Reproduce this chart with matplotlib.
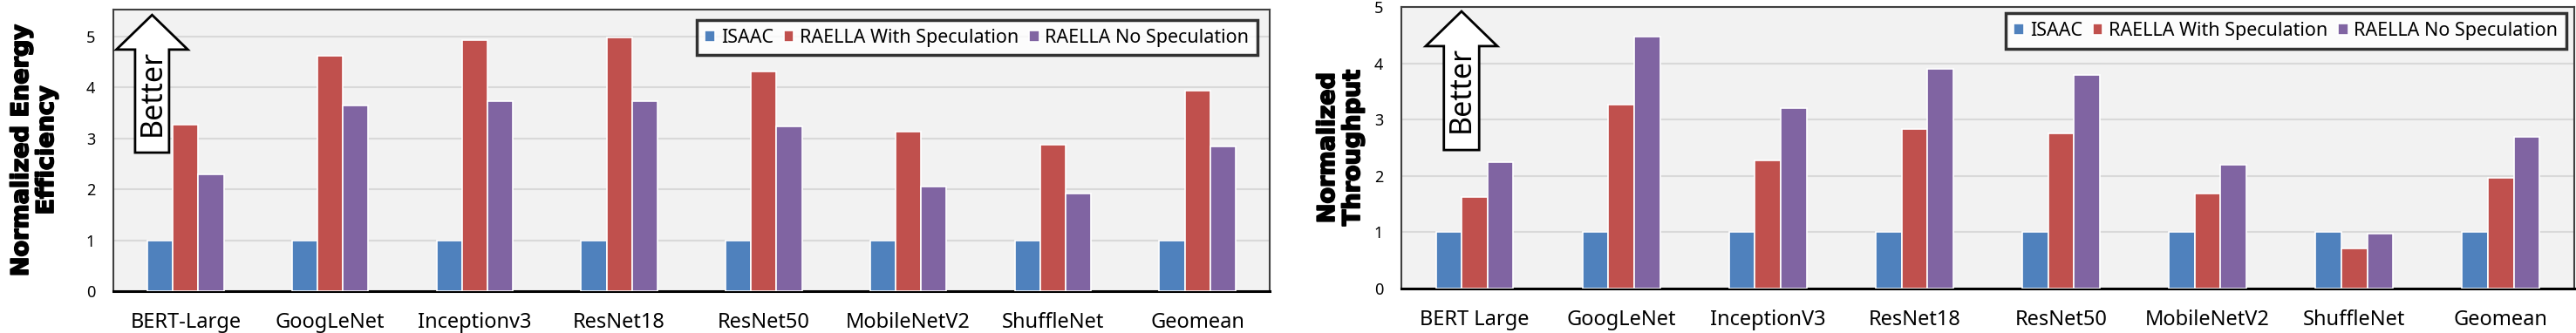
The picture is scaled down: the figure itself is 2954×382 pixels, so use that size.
import matplotlib
matplotlib.use("Agg")
import matplotlib.pyplot as plt
import matplotlib.patheffects as pe
import numpy as np
from matplotlib.patches import FancyArrow

plt.rcParams['font.family'] = ['Noto Sans', 'DejaVu Sans']

# données
series = ["ISAAC", "RAELLA With Speculation", "RAELLA No Speculation"]
colors = ["#4F81BD", "#C0504D", "#8064A2"]

energy_labels = ["BERT-Large", "GoogLeNet", "Inceptionv3", "ResNet18",
                 "ResNet50", "MobileNetV2", "ShuffleNet", "Geomean"]
energy_isaac = [1, 1, 1, 1, 1, 1, 1, 1]
energy_spec = [3.27, 4.62, 4.93, 4.98, 4.31, 3.14, 2.87, 3.93]
energy_nospec = [2.29, 3.64, 3.73, 3.73, 3.23, 2.05, 1.91, 2.84]

thr_labels = ["BERT Large", "GoogLeNet", "InceptionV3", "ResNet18",
              "ResNet50", "MobileNetV2", "ShuffleNet", "Geomean"]
thr_isaac = [1, 1, 1, 1, 1, 1, 1, 1]
thr_spec = [1.63, 3.26, 2.27, 2.83, 2.75, 1.68, 0.71, 1.96]
thr_nospec = [2.25, 4.47, 3.20, 3.90, 3.79, 2.20, 0.98, 2.70]

fig = plt.figure(figsize=(29.54, 3.82), dpi=100)
ax1 = fig.add_axes([0.0440, 0.1257, 0.4489, 0.8455])
ax2 = fig.add_axes([0.5440, 0.1335, 0.4553, 0.8455])


def draw(ax, labels, vals, ymax, ylabel, label_x, leg_anchor, arrow):
    x = np.arange(len(labels))
    step = 0.176
    for k, (v, c, name) in enumerate(zip(vals, colors, series)):
        ax.bar(x + (k - 1) * step, v, width=step, color=c, edgecolor="white",
               linewidth=1.2, label=name, zorder=3)
    ax.set_facecolor("#F2F2F2")
    ax.set_xlim(-0.5, len(labels) - 0.5)
    ax.set_ylim(0, ymax)
    ax.set_yticks(range(0, 6))
    ax.yaxis.grid(True, color="#D9D9D9", linewidth=1.5, zorder=0)
    ax.set_axisbelow(True)
    ax.set_xticks(x)
    ax.set_xticklabels(labels, fontsize=17)
    ax.tick_params(axis="x", length=0, pad=17)
    ax.tick_params(axis="y", length=0, pad=15, labelsize=13)
    for s in ["top", "left", "right"]:
        ax.spines[s].set_color("#404040")
        ax.spines[s].set_linewidth(1.5)
    ax.spines["bottom"].set_color("black")
    ax.spines["bottom"].set_linewidth(2.2)
    yl = ax.set_ylabel(ylabel, fontsize=19.5, fontweight="bold",
                       family="DejaVu Sans", linespacing=1.15)
    yl.set_path_effects([pe.withStroke(linewidth=1.3, foreground="black")])
    ax.yaxis.set_label_coords(label_x, 0.5)
    leg = ax.legend(loc="upper right", bbox_to_anchor=leg_anchor, ncol=3,
                    fontsize=15.5, frameon=True, fancybox=False,
                    handlelength=0.55, handleheight=0.55, handletextpad=0.3,
                    columnspacing=0.55, borderaxespad=0, borderpad=0.45)
    leg.get_frame().set_edgecolor("black")
    leg.get_frame().set_linewidth(2.5)
    leg.get_frame().set_facecolor("white")
    leg.set_zorder(6)
    # flèche "Better"
    cx, yb, yt, hb, sw, hw = arrow
    ax.add_patch(FancyArrow(cx, yb, 0, yt - yb, width=sw, head_width=hw,
                            head_length=yt - hb, length_includes_head=True,
                            transform=ax.transAxes, facecolor="white",
                            edgecolor="black", linewidth=2, zorder=5))
    ax.text(cx, (yb + hb) / 2 + 0.03, "Better", transform=ax.transAxes,
            rotation=90, ha="center", va="center", fontsize=24.5, zorder=6)


draw(ax1, energy_labels, [energy_isaac, energy_spec, energy_nospec], 5.53,
     "Normalized Energy\nEfficiency", -0.0475, (0.9894, 0.963),
     (0.0335, 0.492, 0.981, 0.858, 0.0294, 0.0618))
draw(ax2, thr_labels, [thr_isaac, thr_spec, thr_nospec], 5.0,
     "Normalized\nThroughput", -0.0312, (0.9933, 0.978),
     (0.0513, 0.492, 0.9845, 0.861, 0.0301, 0.061))

fig.savefig("out.png", dpi=100)
